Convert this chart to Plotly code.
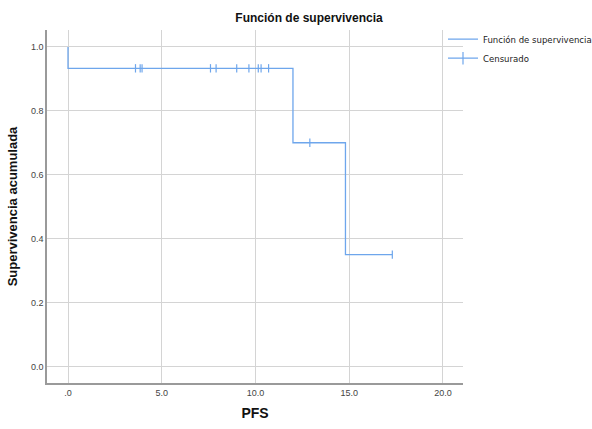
import plotly.graph_objects as go

# Step curve (Kaplan-Meier)
step_x = [0, 0, 12.0, 14.8, 17.3]
step_y = [1.0, 0.933, 0.70, 0.35, 0.35]

# Censored observations
cens_x = [3.6, 3.85, 3.95, 7.6, 7.9, 9.0, 9.65, 10.15, 10.3, 10.7, 12.9, 17.3]
cens_y = [0.933] * 10 + [0.70, 0.35]

x_ticks = [0, 5, 10, 15, 20]
x_ticklabels = [".0", "5.0", "10.0", "15.0", "20.0"]
y_ticks = [0.0, 0.2, 0.4, 0.6, 0.8, 1.0]
y_ticklabels = ["0.0", "0.2", "0.4", "0.6", "0.8", "1.0"]

blue = "#6ea6ec"
font = "Liberation Sans, Arial, sans-serif"
narrow = "DejaVu Sans Condensed, Liberation Sans, Arial, sans-serif"

fig = go.Figure()
fig.add_trace(go.Scatter(
    x=step_x, y=step_y, mode="lines", line_shape="hv",
    line=dict(color=blue, width=1.3), name="Función de supervivencia"))
fig.add_trace(go.Scatter(
    x=cens_x, y=cens_y, mode="markers",
    marker=dict(symbol="line-ns", size=6, line=dict(color=blue, width=1.2), color=blue),
    name="Censurado", showlegend=False))
# legend entry for censored marks (line with cross)
fig.add_trace(go.Scatter(
    x=[None], y=[None], mode="lines+markers",
    line=dict(color=blue, width=1.3),
    marker=dict(symbol="line-ns", size=9, line=dict(color=blue, width=1.2), color=blue),
    name="Censurado"))

fig.update_layout(
    width=592, height=429,
    margin=dict(l=47, r=129, t=30, b=46, autoexpand=False),
    paper_bgcolor="white", plot_bgcolor="white",
    font=dict(family=font, color="#333333"),
    title=dict(text="<b>Función de supervivencia</b>", x=309 / 592, xanchor="center",
               y=1 - 18 / 429, yanchor="middle", font=dict(size=12, color="#111111")),
    legend=dict(x=(443 - 47) / 416, y=1.015, xanchor="left", yanchor="top",
                font=dict(size=9.5, color="#222222", family=narrow),
                itemwidth=30, bgcolor="rgba(0,0,0,0)", tracegroupgap=0),
    showlegend=True,
)
fig.update_xaxes(
    range=[-1.12, 21.07], tickvals=x_ticks, ticktext=x_ticklabels, automargin=False,
    showgrid=True, gridcolor="#d4d4d4", gridwidth=1,
    showline=True, linecolor="#9a9a9a", linewidth=1.5, zeroline=False,
    ticks="", tickfont=dict(size=9, color="#444444"),
    title=dict(text="<b>PFS</b>", font=dict(size=14, color="#111111"), standoff=12),
)
fig.update_yaxes(
    range=[-0.052, 1.053], tickvals=y_ticks, ticktext=y_ticklabels, automargin=False,
    showgrid=True, gridcolor="#d4d4d4", gridwidth=1,
    showline=True, linecolor="#9a9a9a", linewidth=1.5, zeroline=False,
    ticks="", tickfont=dict(size=9, color="#444444"),
    title=dict(text="<b>Supervivencia acumulada</b>", font=dict(size=13, color="#111111"), standoff=10),
)

fig.write_html("out.html", config={"displayModeBar": False},
               post_script="document.body.style.margin='0';")
